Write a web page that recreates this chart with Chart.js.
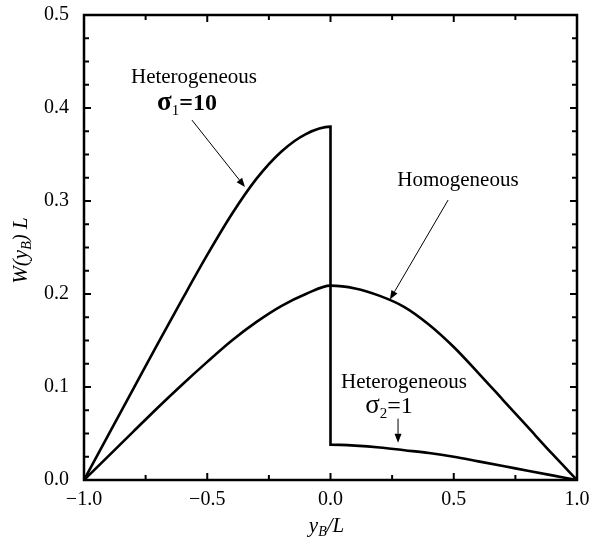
<!DOCTYPE html>
<html>
<head>
<meta charset="utf-8">
<script src="https://cdn.jsdelivr.net/npm/chart.js@4.4.1/dist/chart.umd.min.js"></script>
<style>
  html, body { margin: 0; padding: 0; background: #fff; }
  #box { width: 593px; height: 544px; }
</style>
</head>
<body>
<div id="box"><canvas id="grafico"></canvas></div>
<script>
// perfis W(yB)·L ao longo de yB/L
const xValues = [-1.0, -0.9, -0.8, -0.7, -0.6, -0.5, -0.4, -0.3, -0.2, -0.1, 0.0,
                 0.1, 0.2, 0.3, 0.4, 0.5, 0.6, 0.7, 0.8, 0.9, 1.0]
const homogeneous = [0, 0.026, 0.052, 0.078, 0.103, 0.127, 0.150, 0.170, 0.187, 0.200, 0.209,
                     0.206, 0.198, 0.186, 0.167, 0.143, 0.115, 0.086, 0.057, 0.028, 0]

// meio heterogêneo: salto em yB = 0 (sigma1 = 10 à esquerda, sigma2 = 1 à direita)
const heteroX = [-1.0, -0.9, -0.8, -0.7, -0.6, -0.5, -0.4, -0.3, -0.2, -0.1, 0.0,
                 0.0, 0.1, 0.2, 0.3, 0.4, 0.5, 0.6, 0.7, 0.8, 0.9, 1.0]
const heteroY = [0, 0.049, 0.098, 0.147, 0.195, 0.242, 0.286, 0.324, 0.353, 0.372, 0.380,
                 0.038, 0.037, 0.035, 0.032, 0.029, 0.025, 0.020, 0.015, 0.010, 0.005, 0]

const xTicks = [-1.0, -0.5, 0.0, 0.5, 1.0]
const xTickLabels = ['\u22121.0', '\u22120.5', '0.0', '0.5', '1.0']
const xMinorTicks = [-0.75, -0.25, 0.25, 0.75]
const yTicks = [0.0, 0.1, 0.2, 0.3, 0.4, 0.5]
const yTickLabels = ['0.0', '0.1', '0.2', '0.3', '0.4', '0.5']
const yMinorTicks = [0.025, 0.05, 0.075, 0.125, 0.15, 0.175, 0.225, 0.25, 0.275,
                     0.325, 0.35, 0.375, 0.425, 0.45, 0.475]

const SERIF = '"Liberation Serif", "Times New Roman", serif'

// rótulos e setas (coordenadas em unidades dos eixos)
const notes = [
  { x: -0.554, y: 0.427, parts: [{ t: 'Heterogeneous', f: '21px ' + SERIF }] },
  { x: -0.582, y: 0.398, parts: [{ t: 'σ', f: 'bold 27px ' + SERIF }, { t: '1', f: '15px ' + SERIF, dy: 5 }, { t: '=10', f: 'bold 24px ' + SERIF }] },
  { x: 0.517, y: 0.316, parts: [{ t: 'Homogeneous', f: '21px ' + SERIF }] },
  { x: 0.298, y: 0.099, parts: [{ t: 'Heterogeneous', f: '21px ' + SERIF }] },
  { x: 0.237, y: 0.072, parts: [{ t: 'σ', f: '27px ' + SERIF }, { t: '2', f: '15px ' + SERIF, dy: 5 }, { t: '=1', f: '24px ' + SERIF }] },
]
const arrows = [
  { from: [-0.562, 0.387], to: [-0.347, 0.315] },
  { from: [0.477, 0.301], to: [0.241, 0.194] },
  { from: [0.274, 0.066], to: [0.274, 0.040] },
]

function richText(ctx, parts, cx, base) {
  let w = 0
  parts.forEach(p => { ctx.font = p.f; w += ctx.measureText(p.t).width })
  let px = cx - w / 2
  parts.forEach(p => {
    ctx.font = p.f
    ctx.fillText(p.t, px, base + (p.dy || 0))
    px += ctx.measureText(p.t).width
  })
}

const frame = {
  id: 'frame',
  afterDatasetsDraw(chart) {
    const { ctx, chartArea: a, scales: { x, y } } = chart
    ctx.save()
    ctx.strokeStyle = '#000'
    ctx.fillStyle = '#000'
    ctx.lineWidth = 2.5
    ctx.strokeRect(a.left, a.top, a.right - a.left, a.bottom - a.top)

    const seg = (x1, y1, x2, y2) => { ctx.beginPath(); ctx.moveTo(x1, y1); ctx.lineTo(x2, y2); ctx.stroke() }
    ctx.lineWidth = 2
    const xt = (v, len) => { const p = x.getPixelForValue(v); seg(p, a.bottom, p, a.bottom - len); seg(p, a.top, p, a.top + len) }
    const yt = (v, len) => { const p = y.getPixelForValue(v); seg(a.left, p, a.left + len, p); seg(a.right, p, a.right - len, p) }
    xTicks.forEach(v => xt(v, 7))
    xMinorTicks.forEach(v => xt(v, 5))
    yTicks.forEach(v => yt(v, 7))
    yMinorTicks.forEach(v => yt(v, 5))

    // setas finas com ponta cheia
    ctx.lineWidth = 1
    arrows.forEach(ar => {
      const x1 = x.getPixelForValue(ar.from[0]), y1 = y.getPixelForValue(ar.from[1])
      const x2 = x.getPixelForValue(ar.to[0]), y2 = y.getPixelForValue(ar.to[1])
      const ang = Math.atan2(y2 - y1, x2 - x1)
      const hl = 9, hw = 3.5
      const bx = x2 - hl * Math.cos(ang), by = y2 - hl * Math.sin(ang)
      seg(x1, y1, bx, by)
      ctx.beginPath()
      ctx.moveTo(x2, y2)
      ctx.lineTo(bx + hw * Math.sin(ang), by - hw * Math.cos(ang))
      ctx.lineTo(bx - hw * Math.sin(ang), by + hw * Math.cos(ang))
      ctx.closePath()
      ctx.fill()
    })

    ctx.textBaseline = 'alphabetic'
    notes.forEach(n => richText(ctx, n.parts, x.getPixelForValue(n.x), y.getPixelForValue(n.y)))

    // títulos dos eixos
    const it = 'italic 21px ' + SERIF, sub = 'italic 14px ' + SERIF
    richText(ctx, [{ t: 'y', f: it }, { t: 'B', f: sub, dy: 4 }, { t: '/L', f: it }], (a.left + a.right) / 2 - 4, 532)
    ctx.translate(27, (a.top + a.bottom) / 2 + 3)
    ctx.rotate(-Math.PI / 2)
    richText(ctx, [{ t: 'W(y', f: it }, { t: 'B', f: sub, dy: 4 }, { t: ') L', f: it }], 0, 0)
    ctx.restore()
  }
}

const ctx = document.getElementById('grafico')

Chart.defaults.color = '#000'
Chart.defaults.font.family = SERIF
Chart.defaults.font.size = 20

const data = {
  datasets: [{
    label: 'Homogeneous',
    data: xValues.map((v, i) => ({ x: v, y: homogeneous[i] })),
    borderColor: '#000',
    borderWidth: 2.6,
    pointRadius: 0,
    cubicInterpolationMode: 'monotone'
  }, {
    label: 'Heterogeneous',
    data: heteroX.map((v, i) => ({ x: v, y: heteroY[i] })),
    borderColor: '#000',
    borderWidth: 2.6,
    pointRadius: 0,
    cubicInterpolationMode: 'monotone'
  }]
}

// tamanhos fixos dos eixos, sem folga extra para os rótulos das pontas
const fixX = s => { s.height = 64; s.paddingLeft = 0; s.paddingRight = 0 }
const fixY = s => { s.width = 84; s.paddingTop = 0; s.paddingBottom = 0 }

const config = {
  type: 'line',
  data,
  options: {
    responsive: true,
    maintainAspectRatio: false,
    animation: false,
    events: [],
    layout: { padding: { top: 15, right: 16, left: 0, bottom: 0 } },
    plugins: { legend: { display: false }, tooltip: { enabled: false } },
    scales: {
      x: {
        type: 'linear',
        min: -1, max: 1,
        afterBuildTicks: s => { s.ticks = xTicks.map(v => ({ value: v })) },
        afterFit: fixX,
        ticks: { callback: (v, i) => xTickLabels[i], padding: 8, maxRotation: 0 },
        grid: { display: false, drawTicks: false },
        border: { display: false }
      },
      y: {
        min: 0, max: 0.5,
        afterBuildTicks: s => { s.ticks = yTicks.map(v => ({ value: v })) },
        afterFit: fixY,
        ticks: { callback: (v, i) => yTickLabels[i], padding: 15 },
        grid: { display: false, drawTicks: false },
        border: { display: false }
      }
    }
  },
  plugins: [frame]
}

const graph = new Chart(ctx, config)
</script>
</body>
</html>
